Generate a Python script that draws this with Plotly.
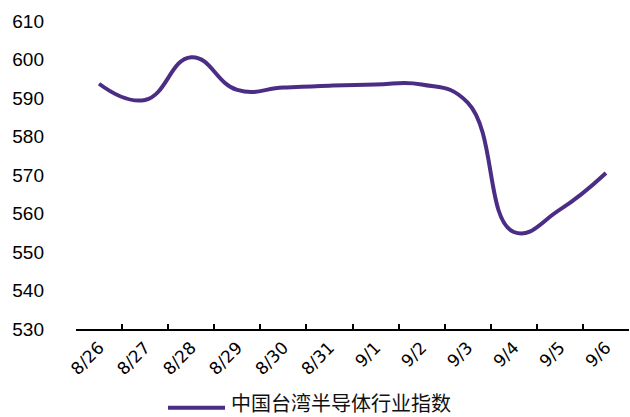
import plotly.graph_objects as go

# Daily closes of the index, 8/26 – 9/6
dates = ["8/26", "8/27", "8/28", "8/29", "8/30", "8/31",
         "9/1", "9/2", "9/3", "9/4", "9/5", "9/6"]
index_values = [593.7, 589.5, 600.6, 592.1, 592.7, 593.2,
                593.5, 593.5, 588.8, 555.2, 561.0, 570.5]
series_name = "中国台湾半导体行业指数"
y_ticks = [530, 540, 550, 560, 570, 580, 590, 600, 610]

line_color = "#4B2D86"

fig = go.Figure()
fig.add_trace(go.Scatter(
    x=dates,
    y=index_values,
    mode="lines",
    name=series_name,
    line=dict(color=line_color, width=4, shape="spline", smoothing=1.3),
    showlegend=False,
))

# Legend row drawn below the plot: sample stroke + series name
fig.add_shape(type="line", xref="paper", yref="paper",
              x0=(168 - 76) / 553, x1=(225 - 76) / 553,
              y0=-0.256, y1=-0.256,
              line=dict(color=line_color, width=4))
fig.add_annotation(text=series_name, xref="paper", yref="paper",
                   x=(230 - 76) / 553, y=-0.238, xanchor="left", yanchor="middle",
                   showarrow=False, borderpad=0,
                   font=dict(family="Noto Sans CJK SC", size=20, color="#111111"))

fig.update_layout(
    width=630, height=417,
    margin=dict(l=76, r=1, t=21, b=88),
    paper_bgcolor="white", plot_bgcolor="white",
    xaxis=dict(
        type="category",
        range=[-0.5, len(dates) - 0.5],
        tickson="boundaries",
        ticks="inside", ticklen=5, tickwidth=1.5, tickcolor="black",
        showline=True, linecolor="black", linewidth=2,
        showgrid=False, zeroline=False,
        tickangle=-45,
        ticklabelstandoff=0,
        tickfont=dict(family="DejaVu Sans", size=17, color="black"),
    ),
    yaxis=dict(
        range=[530, 610],
        tickvals=y_ticks,
        showline=False, showgrid=False, zeroline=False,
        ticks="",
        ticklabelstandoff=31,
        tickfont=dict(family="Liberation Sans, Arial", size=19, color="black"),
    ),
)

fig.write_html("out.html")
